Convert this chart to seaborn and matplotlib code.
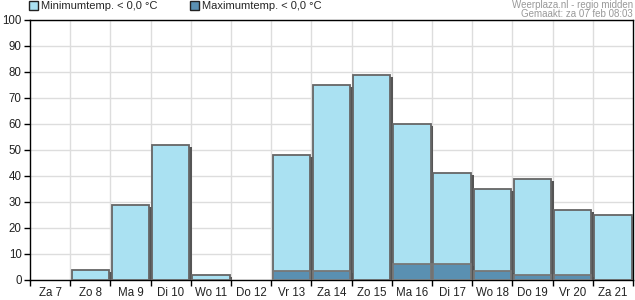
import matplotlib
matplotlib.use("Agg")
import matplotlib.pyplot as plt
import matplotlib.patheffects as pe
import seaborn as sns
import pandas as pd

days = ["Za 7", "Zo 8", "Ma 9", "Di 10", "Wo 11", "Do 12", "Vr 13", "Za 14",
        "Zo 15", "Ma 16", "Di 17", "Wo 18", "Do 19", "Vr 20", "Za 21"]
min_temp = [0, 4, 29, 52, 2, 0, 48, 75, 79, 60, 41, 35, 39, 27, 25]
max_temp = [0, 0, 0, 0, 0, 0, 3.5, 3.5, 0, 6, 6, 3.5, 1.8, 1.8, 0]

df = pd.DataFrame({"day": days, "min": min_temp, "max": max_temp})

sns.set_theme(style="white")
plt.rcParams["font.family"] = ["Liberation Sans", "DejaVu Sans"]

fig = plt.figure(figsize=(6.35, 3.0), dpi=100)
ax = fig.add_axes([30 / 635, 20 / 300, 603 / 635, 260 / 300])

min_col = "#aae1f2"
max_col = "#5a90b2"
shadow = [pe.SimplePatchShadow(offset=(2, -1.5), shadow_rgbFace="#555555", alpha=1.0), pe.Normal()]

sns.barplot(data=df, x="day", y="min", color=min_col, saturation=1, width=0.93,
            edgecolor="#666666", linewidth=1.3, ax=ax, zorder=3)
sns.barplot(data=df, x="day", y="max", color=max_col, saturation=1, width=0.93,
            edgecolor="#777777", linewidth=1.3, ax=ax, zorder=4)
for p in ax.patches:
    if p.get_height() > 0:
        p.set_path_effects(shadow)
    else:
        p.set_visible(False)

ax.set_ylim(0, 100)
ax.set_xlim(-0.5, len(days) - 0.5)
ax.set_yticks(range(0, 101, 10))
ax.set_yticklabels([str(v) for v in range(0, 101, 10)], fontsize=8.3, color="#222222")
ax.set_xticks(range(len(days)))
ax.set_xticklabels(days, fontsize=8.3, color="#222222")
ax.set_xlabel("")
ax.set_ylabel("")

ax.grid(True, axis="y", color="#dddddd", linewidth=1, zorder=0)
for b in [i + 0.5 for i in range(len(days) - 1)]:
    ax.axvline(b, color="#dddddd", linewidth=1, zorder=0)
ax.set_axisbelow(True)

for s in ax.spines.values():
    s.set_visible(True)
    s.set_color("black")
    s.set_linewidth(1)

ax.tick_params(axis="y", length=4, width=1, color="black", left=True, pad=2)
ax.tick_params(axis="x", length=0, pad=5)
ax.set_xticks([i - 0.5 for i in range(len(days) + 1)], minor=True)
ax.tick_params(axis="x", which="minor", length=4, width=1, color="black", bottom=True)

from matplotlib.patches import Patch
handles = [Patch(facecolor=min_col, edgecolor="#222222", label="Minimumtemp. < 0,0 °C"),
           Patch(facecolor=max_col, edgecolor="#222222", label="Maximumtemp. < 0,0 °C")]
fig.legend(handles=handles, loc="upper left", bbox_to_anchor=(28 / 635, 1.0), ncol=2,
           frameon=False, fontsize=8, handlelength=0.8, handleheight=0.8,
           handletextpad=0.3, columnspacing=2.9, borderaxespad=0, borderpad=0.1)

fig.text(633 / 635, 1 - 8 / 300, "Weerplaza.nl - regio midden", ha="right", va="baseline",
         fontsize=7, color="#999999")
fig.text(633 / 635, 1 - 17 / 300, "Gemaakt: za 07 feb 08:03", ha="right", va="baseline",
         fontsize=7, color="#999999")

fig.savefig("out.png", dpi=100)
